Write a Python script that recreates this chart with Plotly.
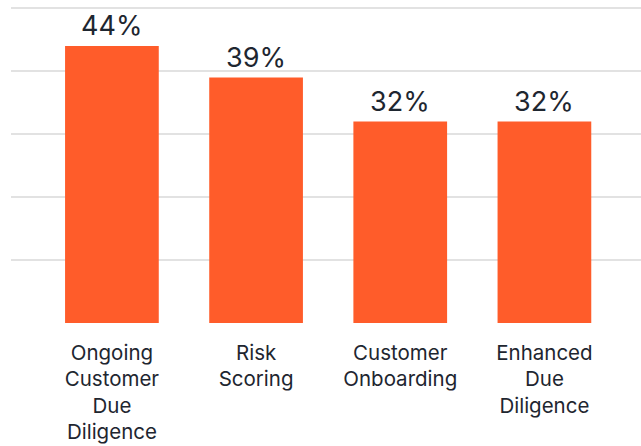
import plotly.graph_objects as go

categories = ["Ongoing<br>Customer<br>Due<br>Diligence", "Risk<br>Scoring",
              "Customer<br>Onboarding", "Enhanced<br>Due<br>Diligence"]
values = [44, 39, 32, 32]
value_labels = [f"{v}%" for v in values]

BAR_COLOR = "#FF5C2A"
TEXT_COLOR = "#1E2630"
FONT = "Inter, Roboto, sans-serif"

fig = go.Figure(
    go.Bar(
        x=categories,
        y=values,
        marker=dict(color=BAR_COLOR, line=dict(width=0)),
        hoverinfo="skip",
    )
)

# value labels sitting a little above each bar
for cat, val, lab in zip(categories, values, value_labels):
    fig.add_annotation(
        x=cat, y=val, text=lab, showarrow=False,
        yanchor="bottom", yshift=2,
        font=dict(size=27, color=TEXT_COLOR, family=FONT),
    )

fig.update_layout(
    width=641,
    height=446,
    margin=dict(l=11, r=0, t=7, b=123),
    paper_bgcolor="white",
    plot_bgcolor="white",
    bargap=0.35,
    showlegend=False,
    font=dict(family=FONT, color=TEXT_COLOR),
)

fig.update_xaxes(
    range=[-0.70, 3.67],
    showgrid=False,
    showline=False,
    zeroline=False,
    ticks="",
    tickfont=dict(size=20.5, color=TEXT_COLOR, family=FONT),
    ticklabelstandoff=15,
)

fig.update_yaxes(
    range=[0, 50.2],
    tickvals=[0, 10, 20, 30, 40, 50],
    showgrid=True,
    gridcolor="#E2E2E2",
    gridwidth=2,
    zeroline=False,
    showticklabels=False,
    ticks="",
)

fig.write_html("out.html")
